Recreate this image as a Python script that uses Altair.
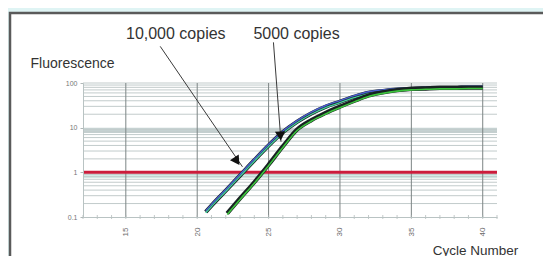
import altair as alt
import pandas as pd

FONT = "Liberation Sans"

# ---- data ----
x_ticks = [15, 20, 25, 30, 35, 40]
y_ticks = [0.1, 1, 10, 100]
minor_cycles = list(range(12, 42))
h_grid = [0.2, 0.3, 0.4, 0.5, 0.6, 0.7, 0.8, 0.9,
          2, 3, 4, 5, 6, 7, 8, 9,
          20, 30, 40, 50, 60, 70, 80, 90, 100]
threshold = [1]

cycles_10k = [20.6, 21, 22, 23, 24, 25, 26, 27, 28, 29, 30,
              31, 32, 33, 34, 35, 36, 37, 38, 39, 40]
fluor_10k = [0.13, 0.18, 0.39, 0.85, 1.86, 3.98, 7.9, 13.5, 20.9, 29.5, 38,
             49, 60, 66, 71, 74, 76, 77.6, 77.6, 79.4, 79.4]

cycles_5k = [22.1, 23, 24, 25, 26, 27, 28, 29, 30,
             31, 32, 33, 34, 35, 36, 37, 38, 39, 40]
fluor_5k = [0.12, 0.26, 0.60, 1.48, 3.8, 9.1, 14.8, 21.4, 29.5,
            39.8, 52.5, 61.7, 69.2, 74, 76, 77.6, 77.6, 79.4, 79.4]

labels = ["10,000 copies", "5000 copies"]
label_cycle = [18.5, 26.96]
label_value = [1230, 1230]
arrow_start_cycle = [17.41, 25.34]
arrow_start_value = [661, 813]
arrow_end_cycle = [23.17, 25.87]
arrow_end_value = [1.33, 4.84]
head_cycle = [22.78, 25.83]
head_value = [1.78, 6.5]
head_angle = [326, 356]

# ---- tables ----
df10 = pd.DataFrame({"cycle": cycles_10k, "f": fluor_10k})
df5 = pd.DataFrame({"cycle": cycles_5k, "f": fluor_5k})
df_lab = pd.DataFrame({"cycle": label_cycle, "f": label_value, "t": labels})
df_arr = pd.DataFrame({"cycle": arrow_start_cycle, "f": arrow_start_value,
                       "x2": arrow_end_cycle, "y2": arrow_end_value})
df_head = pd.DataFrame({"cycle": head_cycle, "f": head_value, "ang": head_angle})

xs = alt.Scale(domain=[12, 41], nice=False, zero=False)
ys = alt.Scale(type="log", domain=[0.1, 100], nice=False)

x_axis = alt.Axis(values=x_ticks, labelAngle=270, labelFontSize=8,
                  labelColor="#6a6a6a", labelPadding=10, ticks=False,
                  domainColor="#b9c3c3", grid=False, title="Cycle Number",
                  titleFontSize=13.5, titleFontWeight="normal", titleColor="#333333",
                  titleX=392, titleY=33, titleAlign="center",
                  titleBaseline="middle", titleFont=FONT, labelFont=FONT, zindex=1)
y_axis = alt.Axis(values=y_ticks, format="~g", labelFontSize=7,
                  labelColor="#777777", tickColor="#b0b8b8", tickSize=3,
                  domainColor="#b9c3c3", grid=False, title="Fluorescence",
                  titleAngle=0, titleAlign="left", titleBaseline="middle",
                  titleX=-53, titleY=-20, titleFontSize=14,
                  titleFontWeight="normal", titleColor="#333333",
                  titleFont=FONT, labelFont=FONT, labelPadding=3, zindex=1)


def X(f):
    return alt.X(f, type="quantitative", scale=xs, axis=x_axis)


def Y(f):
    return alt.Y(f, type="quantitative", scale=ys, axis=y_axis)


one = pd.DataFrame({"a": [0]})

frame = alt.Chart(one).mark_rect(fill="white", stroke="#5a5a5a", strokeWidth=2.5).encode(
    x=alt.value(-73), x2=alt.value(800), y=alt.value(-70), y2=alt.value(500))

bands = alt.Chart(pd.DataFrame({"f": [7.6, 0.75], "hi": [10, 1],
                                "c": ["#c6d2d2", "#d3ebe6"]})).mark_rect().encode(
    y=Y("f"), y2="hi:Q", color=alt.Color("c:N", scale=None))

hgrid = alt.Chart(pd.DataFrame({"f": h_grid})).mark_rule(
    color="#c2cbcb", strokeWidth=1).encode(y=Y("f"))

vgrid = alt.Chart(pd.DataFrame({"cycle": x_ticks})).mark_rule(
    color="#7d8585", strokeWidth=1).encode(x=X("cycle"))

minor = alt.Chart(pd.DataFrame({"cycle": minor_cycles,
                                "f": [0.1] * len(minor_cycles)})).mark_tick(
    orient="vertical", size=4, thickness=1, color="#a9b2b2").encode(
    x=X("cycle"), y=Y("f"))

thr = alt.Chart(pd.DataFrame({"f": threshold})).mark_rule(
    color="#cc1d3c", strokeWidth=3).encode(y=Y("f"))


def curve(df, color, width, yoff=0):
    return alt.Chart(df).mark_line(color=color, strokeWidth=width,
                                   interpolate="monotone", yOffset=yoff).encode(
        x=X("cycle"), y=Y("f"))


curves = [
    curve(df10, "#182222", 4.2),
    curve(df10, "#4a5fd0", 1.4, -1.2),
    curve(df10, "#45cf9c", 1.3, 0.9),
    curve(df5, "#182222", 4.2),
    curve(df5, "#3dc43d", 1.6, 1.0),
]

arrows = alt.Chart(df_arr).mark_rule(color="#3a3a3a", strokeWidth=1).encode(
    x=X("cycle"), y=Y("f"), x2="x2:Q", y2="y2:Q")

heads = alt.Chart(df_head).mark_point(shape="triangle-down", filled=True,
                                      size=110, color="#111111", opacity=1).encode(
    x=X("cycle"), y=Y("f"), angle=alt.Angle("ang:Q", scale=None))

texts = alt.Chart(df_lab).mark_text(font=FONT, fontSize=16, color="#333333",
                                    align="center", baseline="middle").encode(
    x=X("cycle"), y=Y("f"), text="t:N")

chart = alt.layer(frame, bands, hgrid, vgrid, minor, thr, *curves,
                  arrows, heads, texts).properties(
    width=414, height=134,
    autosize=alt.AutoSizeParams(type="none"),
    padding={"left": 75, "top": 75, "right": 46, "bottom": 39},
    background="#dff4f4",
).configure_view(stroke="#b8c2c2")

chart.save("out.html", embed_options={"renderer": "svg", "actions": False})
